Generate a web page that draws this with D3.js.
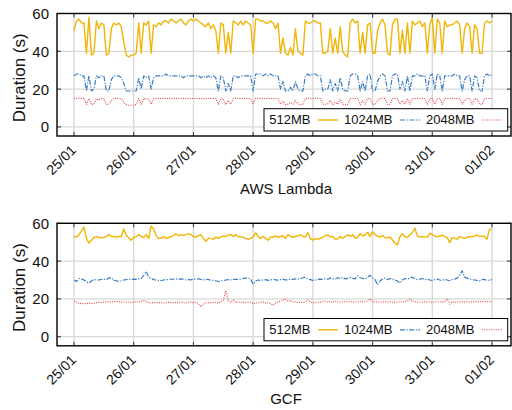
<!DOCTYPE html>
<html>
<head>
<meta charset="utf-8">
<script src="https://cdn.jsdelivr.net/npm/d3@7"></script>
<style>
  body { margin: 0; background: #fff; }
  svg text { font-family: "Liberation Sans", Arial, Helvetica, sans-serif; fill: #111; }
</style>
</head>
<body>
<div id="my_dataviz"></div>
<script>
// Hourly durations (s), 25/01 00:00 -> 01/02 00:00 (169 samples per series)
const dayLabels = ["25/01", "26/01", "27/01", "28/01", "29/01", "30/01", "31/01", "01/02"];
const yTicks = [0, 20, 40, 60];
const memLabels = ["512MB", "1024MB", "2048MB"];
const panelTitles = ["AWS Lambda", "GCF"];

const awsMem512 = [
  51,56,57,55,55,39,58,38,39,56,52,55,54,38,39,52,55,54,55,53,45,38,37,38,
  38,39,55,39,55,54,56,39,54,53,55,54,56,56,55,57,56,55,56,57,55,54,56,57,
  56,57,56,55,54,53,55,52,54,51,39,55,54,39,50,39,56,55,54,56,54,56,55,54,
  39,57,57,56,56,55,55,56,55,52,55,39,47,39,38,42,38,52,40,39,38,56,55,55,
  56,56,55,55,39,39,40,52,39,47,39,53,40,38,37,55,57,55,56,39,50,39,54,55,
  39,39,51,55,57,54,39,38,54,57,57,39,51,39,55,39,56,54,55,56,53,55,39,54,
  58,39,57,55,39,56,53,54,54,55,56,54,39,52,55,53,39,54,52,39,39,55,56,55,
  56];
const awsMem1024 = [
  27,28,28,27,27,19,27,19,20,27,26,27,27,19,19,25,27,27,27,26,23,19,19,19,
  19,19,26,20,27,26,27,20,26,27,27,27,27,28,27,27,27,27,27,27,26,27,27,27,
  27,27,27,26,27,26,27,26,27,26,19,27,26,19,23,19,27,27,26,27,27,27,27,27,
  19,28,28,28,27,28,27,28,27,27,27,20,24,19,19,21,19,24,20,19,19,27,28,27,
  28,28,27,27,19,20,20,25,19,23,19,26,20,19,19,27,28,28,27,19,24,19,27,28,
  19,19,24,27,28,27,19,19,27,28,28,20,24,19,27,19,27,27,28,27,27,27,19,27,
  28,20,28,27,19,27,27,27,27,28,27,27,19,25,27,27,19,27,26,19,19,27,28,27,
  28];
const awsMem2048 = [
  15.2,15,15.3,15,15.1,12,15,11.8,12,15,14.2,15.1,15,11.8,12,14,15,15.2,15,15,13,11.8,11.5,11.5,
  11.5,11.8,15,12,15,14.8,15,12,14.8,15,15.1,15,15.2,15,15.1,15.2,15,15.1,15,15.2,15,15,15.1,15,
  15,15.1,15,15,14.9,15,15,15,15.1,15,12,15,14.8,11.8,14,12,15,15.1,15,15,15,15.1,15,15,
  12,15.2,15,15.1,15,15,15.1,15,15,15,15,12,13.5,11.8,12,13,12,14,12.2,11.8,12,15,15.2,15,
  15,15.1,15,15,12,12,12.3,14,11.8,13,12,14.8,12,11.8,11.8,15,15.2,15,15,11.8,14,12,15,15.1,
  12,11.8,14,15,15.2,15,12,11.8,15,15.1,15,12,14,12,15,12,15,15,15.1,15,15,15,12,15,
  15.2,12,15,15,12,15,15,15.1,15,15,15.1,15,12,14,15,15,12,15,14.8,12,11.8,15,15.1,15,
  15];

const gcfMem512 = [
  53,52.7,54,56,58,52,49.5,51,52.5,53,52.5,52.3,52.5,53,54,53,53,52.7,53,53,57,53.5,52.5,51,
  52.5,53,54,53,52.5,54,52,58.5,57,53.5,52,52,53,52,52.5,53,53.5,54.5,53.5,54,53.5,54,54.5,
  54,53,52.6,53.5,54,52,50.5,52,52,51.5,52.7,52,52.9,53.2,53,53.8,54,53,54,53,52.8,52.6,52,51.5,
  52,52.8,55,53,52,53,52,51,52.8,52.6,53.4,52.6,53,53.4,52,54,53,52.6,53,53.4,54,53,52.8,55,
  52,51,52,51.5,
  52,52.7,53.5,53.9,52.7,53,51.5,51.8,53,52.2,53,53.9,53,53.9,52.2,52.5,54.6,53.3,53.8,55.3,53,
  55.5,54,53.2,52.7,53.6,52.3,52.5,52.6,51.3,49.5,48.6,53,54.5,53,52.5,53.9,55,57.4,53.3,52.7,
  53,52.8,52.6,54.8,54,53.3,52.8,53.3,53.7,53,52.4,49.8,52.4,52,51.6,53,52.4,52,52.6,53,52.8,
  53.3,53.8,53,53.2,53,51.6,56.9,56.9];
const gcfMem1024 = [
  30,29.2,30.8,30.5,30,29,28.4,29.5,30.3,30,30,30.3,30.5,30.2,31,31.3,29.8,29.6,29.3,29.6,30,30.2,30.4,30.2,
  30.5,30.3,30.7,30.8,32.5,34.5,31.5,31,30.2,30,29.8,29.7,30,30.2,30.3,30.4,30.5,30.6,30.3,30.6,30.4,30,30.2,30.1,
  30.4,30.5,30.6,30.3,30.1,30.4,30.2,30,29.8,29.6,29.2,29.5,29.8,30,30.2,30.1,30.2,30.4,30.3,30.5,30.8,31,31,30.5,
  27.8,29.5,30,
  29.8,30,30.2,29.8,30,30.3,30.1,29.9,30.2,30.4,30.1,30,30.5,30.3,30.6,30.4,30.8,31.2,31.5,30.5,30.2,29.8,30,30.3,
  30.5,30.2,30.8,30.4,31,30.6,30.5,31.2,30.8,31.4,30.6,30.9,31.3,31,30.6,32.3,31.2,30.8,30.6,31.5,32.5,31,30.2,
  27.5,29.5,30.5,31,30.2,30.8,30.5,30,29.5,28.4,30,30.8,30.5,31,31.5,30.6,30.2,30.5,30.8,30.2,30.4,30,29.8,30.2,
  30.5,30,29.8,30.3,30,29.6,30.2,30.5,31,32.5,34.9,31.5,31,30.5,30.2,30,29.8,29.6,30.2,30.3,29.8,30,30.2];
const gcfMem2048 = [
  19,18.4,17.6,17.5,17.6,17.4,17.8,17.5,17.7,18,18.2,18.1,18.3,18.5,18.4,18.6,18.5,18.7,18.4,18.5,18.3,18.2,18.4,18.1,18.3,
  18.5,18.2,18.8,19.2,18.6,18,17.8,18.1,17.9,18,18.2,17.8,18,18.3,18.1,17.9,18.2,18,18.4,18.1,17.8,18.2,18.5,18,18.3,
  17.5,16,17.2,17.8,18,17.9,18.2,18.1,17.8,18.4,19,24.5,19,18.2,19.5,18,18.4,18.1,18.3,18,18.5,18.2,17.5,17.8,18,
  18.2,18.5,17.8,18.1,17.5,16.6,17.8,18.4,18.8,19.4,20,18.6,19.3,18.2,18.5,18,18.3,18.1,18.6,19.5,18.2,17.9,18.1,18.4,18.2,
  18.5,18.8,18.3,18.6,18.1,18.9,18.4,18.2,18.6,18.5,18.3,18.7,18.4,18.2,18.5,18.8,18.4,18.6,18.9,20,18.6,18.3,18.5,18.2,18.4,
  18.6,18.3,18.5,18.1,18.4,18.2,18.5,18.3,18.6,19,20,18.7,18.4,18.5,18.2,18.4,18.6,18.3,18.5,18.2,18.4,18.6,18.5,18.3,18.6,
  20,17.2,18.5,18.2,18.4,18.3,18.6,18.4,18.5,18.3,18.6,18.4,18.5,18.7,18.4,18.6,18.5,18.6,18.5];

const lineColors = ["#f0b505", "#3a7dc2", "#e8424c"];
const lineDash = [null, "5,1.5,1.2,1.5", "1,1.3"];
const lineWidth = [1.4, 1.2, 1.1];

document.addEventListener("DOMContentLoaded", function () {

    const margin = {top: 13.5, right: 1, left: 57},
        width = 512 - margin.left - margin.right,
        height = 122.5,
        panelStep = 209.8;

    const svg = d3.select("#my_dataviz")
        .append("svg")
        .attr("width", 512)
        .attr("height", 410);

    // time axis, a bit of padding on both sides of the week
    const t0 = new Date(2020, 0, 25);
    const xScale = d3.scaleTime()
        .domain([d3.timeMinute.offset(t0, -410), d3.timeMinute.offset(t0, 7 * 1440 + 458)])
        .range([0, width]);
    const dayTicks = dayLabels.map((d, i) => d3.timeDay.offset(t0, i));

    const yScale = d3.scaleLinear()
        .domain([-4.8, 60])
        .range([height, 0]);

    const line = d3.line()
        .x((d, i) => xScale(d3.timeHour.offset(t0, i)))
        .y(d => yScale(d));

    const panels = [
        {title: panelTitles[0], series: [awsMem512, awsMem1024, awsMem2048]},
        {title: panelTitles[1], series: [gcfMem512, gcfMem1024, gcfMem2048]}
    ];

    panels.forEach(function (p, k) {
        const g = svg.append("g")
            .attr("transform", `translate(${margin.left},${margin.top + k * panelStep})`);

        // clip for the lines
        g.append("clipPath").attr("id", "clip" + k)
            .append("rect").attr("width", width).attr("height", height);

        // grid
        g.append("g").selectAll("line").data(yTicks).join("line")
            .attr("x1", 0).attr("x2", width)
            .attr("y1", d => yScale(d)).attr("y2", d => yScale(d))
            .attr("stroke", "#cfcfcf").attr("stroke-width", 1);
        g.append("g").selectAll("line").data(dayTicks).join("line")
            .attr("x1", d => xScale(d)).attr("x2", d => xScale(d))
            .attr("y1", 0).attr("y2", height)
            .attr("stroke", "#dadada").attr("stroke-width", 1.4);

        // the three memory sizes
        const lines = g.append("g").attr("clip-path", `url(#clip${k})`);
        p.series.forEach(function (s, j) {
            lines.append("path")
                .datum(s)
                .attr("fill", "none")
                .attr("stroke", lineColors[j])
                .attr("stroke-width", lineWidth[j])
                .attr("stroke-dasharray", lineDash[j])
                .attr("stroke-linejoin", "round")
                .attr("d", line);
        });

        // mirrored inward ticks
        const tk = g.append("g").attr("stroke", "#333").attr("stroke-width", 1);
        dayTicks.forEach(function (d) {
            tk.append("line").attr("x1", xScale(d)).attr("x2", xScale(d)).attr("y1", height).attr("y2", height - 4);
            tk.append("line").attr("x1", xScale(d)).attr("x2", xScale(d)).attr("y1", 0).attr("y2", 4);
        });
        yTicks.forEach(function (d) {
            tk.append("line").attr("x1", 0).attr("x2", 4).attr("y1", yScale(d)).attr("y2", yScale(d));
            tk.append("line").attr("x1", width).attr("x2", width - 4).attr("y1", yScale(d)).attr("y2", yScale(d));
        });

        // frame
        g.append("rect")
            .attr("width", width).attr("height", height)
            .attr("fill", "none").attr("stroke", "#000").attr("stroke-width", 1.4);

        // y tick labels
        g.append("g").selectAll("text").data(yTicks).join("text")
            .attr("x", -8).attr("y", d => yScale(d))
            .attr("dy", "0.36em")
            .attr("text-anchor", "end")
            .style("font-size", "15px")
            .text(d => d);

        // x tick labels, rotated
        g.append("g").selectAll("text").data(dayTicks).join("text")
            .attr("transform", d => `translate(${xScale(d) + 3},${height + 15}) rotate(-45)`)
            .attr("text-anchor", "end")
            .style("font-size", "14px")
            .text((d, i) => dayLabels[i]);

        // axis title + panel title
        g.append("text")
            .attr("transform", `translate(-32,${height / 2 + 3}) rotate(-90)`)
            .attr("text-anchor", "middle")
            .style("font-size", "17px")
            .text("Duration (s)");
        g.append("text")
            .attr("x", width / 2 + 2).attr("y", height + 58)
            .attr("text-anchor", "middle")
            .style("font-size", "15px")
            .text(p.title);

        // legend: label first, then the sample
        const lg = g.append("g").attr("transform", `translate(207,${height - 27.3})`);
        lg.append("rect")
            .attr("width", 243.7).attr("height", 22.3)
            .attr("fill", "#fff").attr("stroke", "#000").attr("stroke-width", 1);
        memLabels.forEach(function (m, j) {
            lg.append("text")
                .attr("x", 46.5 + 82 * j).attr("y", 15.8)
                .attr("text-anchor", "end")
                .style("font-size", "13px")
                .text(m);
            lg.append("line")
                .attr("x1", 54 + 82 * j).attr("x2", 74 + 82 * j)
                .attr("y1", 11.3).attr("y2", 11.3)
                .attr("stroke", lineColors[j])
                .attr("stroke-width", lineWidth[j])
                .attr("stroke-dasharray", lineDash[j]);
        });
    });
});
</script>
</body>
</html>
